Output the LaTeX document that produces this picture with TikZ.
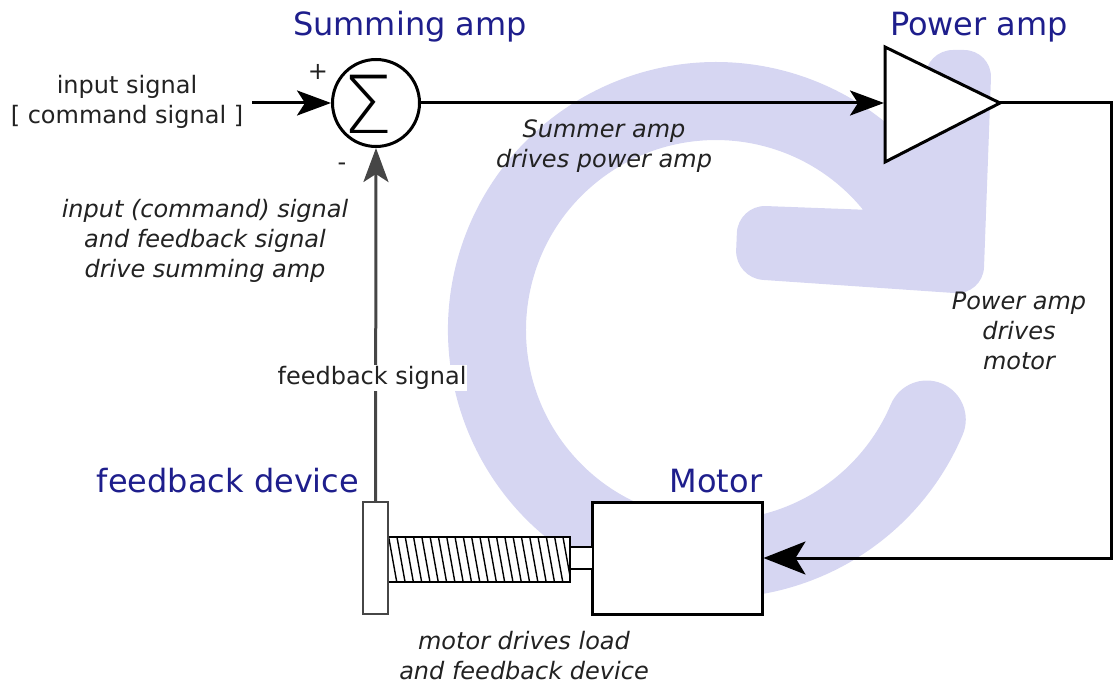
\documentclass[tikz,border=0pt]{standalone}
\usepackage{fontspec}
\setmainfont{DejaVu Sans}[ItalicFont={DejaVu Sans Oblique}]
\IfFontExistsTF{DejaVu Sans ExtraLight}
  {\newfontfamily\sigmafont{DejaVu Sans ExtraLight}}
  {\newfontfamily\sigmafont{DejaVu Sans}}
\usetikzlibrary{arrows.meta,calc}
\definecolor{lav}{RGB}{214,214,242}
\definecolor{titleblue}{RGB}{30,30,140}
\definecolor{ink}{RGB}{34,34,34}
\definecolor{fbgray}{RGB}{70,70,70}
\begin{document}
\begin{tikzpicture}[x=1pt,y=1pt,
  wire/.style={line width=3pt, draw=black},
  tipA/.style={-{Stealth[length=34pt,width=25pt,inset=8pt]}},
  tipB/.style={-{Stealth[length=42pt,width=33pt,inset=10pt]}},
  title/.style={text=titleblue, font=\fontsize{32}{38}\selectfont, inner sep=0pt},
  lbl/.style={text=ink, font=\fontsize{24}{30}\selectfont, align=center, inner sep=0pt},
  note/.style={text=ink, font=\fontsize{24}{30}\selectfont\itshape, align=center, inner sep=0pt},
  box/.style={draw=black, line width=3pt, fill=white, rectangle, inner sep=0pt},
]
\useasboundingbox (0,0) rectangle (1113,-684);

% big lavender loop arrow (background)
\coordinate (C) at (716,-330);
\fill[lav] ($(C)+(-23:268)$) arc[start angle=-23, end angle=-312, radius=268]
  [rounded corners=28pt] -- (925,-110) -- (925,-50) -- (992,-50) -- (983,-295)
  -- (735,-278) -- (738,-205) [sharp corners] -- (863,-209.7)
  arc[start angle=39.3, end angle=337, radius=190]
  arc[start angle=157, end angle=-23, radius=39];

% summing amplifier
\node[circle, draw=black, line width=3pt, fill=white, minimum size=87pt, inner sep=0pt] (sum) at (376,-103) {};
\node[inner sep=0pt, font=\sigmafont\fontsize{80}{82}\selectfont] (sigma) at (368,-104) {Σ};
\node[lbl] (plus) at (318,-72) {+};
\node[lbl] (minus) at (342,-167) {-};

% power amplifier
\draw[wire, fill=white, line join=miter] (885,-47) -- (1000,-103) -- (885,-162) -- cycle;
\coordinate (ampin) at (884,-103);
\coordinate (ampout) at (1000,-103);
\coordinate (rc) at (1111,-103);

% motor, shaft, screw, feedback device
\node[box, minimum width=170pt, minimum height=112pt] (motor) at (677,-558) {};
\node[fill=white, minimum width=22pt, minimum height=22pt, inner sep=0pt, outer sep=0pt] (shaft) at (581,-558) {};
\draw[line width=2.4pt] (shaft.north west) -- (shaft.north east) (shaft.south west) -- (shaft.south east);
\node[draw=black, line width=2.4pt, fill=white, minimum width=182pt, minimum height=45pt, inner sep=0pt,
  path picture={
    \foreach \i in {0,...,23}
      \draw[line width=1.4pt] ($(path picture bounding box.north west)+(\i*8.3-8,2)$) -- ++(9,-50);
  }] (screw) at (479,-559.5) {};
\node[draw=fbgray, line width=2.2pt, fill=white, minimum width=25pt, minimum height=112pt, inner sep=0pt] (fb) at (375.5,-558) {};

% input
\coordinate (inp) at (252,-103);

% connectors
\draw[wire, tipA] (inp) -- (sum.west);
\draw[wire, tipA] (sum.east) -- (ampin);
\draw[wire, tipB] (ampout) -- (rc) |- (motor.east);
\draw[wire, draw=fbgray, tipA] (fb.north) -- (sum.south);

% titles
\node[title] (t1) at (410,-27) {Summing amp};
\node[title] (t2) at (979,-27) {Power amp};
\node[title] (t3) at (228,-481) {feedback device};
\node[title] (t4) at (716,-481) {Motor};

% labels
\node[lbl] (in1) at (127,-102) {input signal\\{[} command signal ]};
\node[lbl, fill=white, inner sep=1pt] (fbs) at (372,-378) {feedback signal};

% notes
\node[note] (n1) at (205,-241) {input (command) signal\\and feedback signal\\drive summing amp};
\node[note] (n2) at (604,-146) {Summer amp\\drives power amp};
\node[note] (n3) at (1019,-331) {Power amp\\drives\\motor};
\node[note] (n4) at (524,-656) {motor drives load\\and feedback device};
\end{tikzpicture}
\end{document}
